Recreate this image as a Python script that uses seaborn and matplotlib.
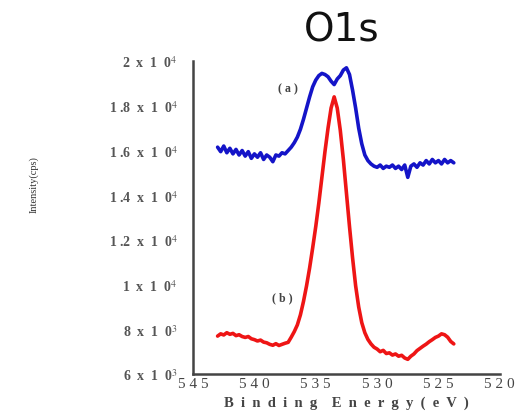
import pandas as pd
import matplotlib
matplotlib.use("Agg")
import matplotlib.pyplot as plt
import seaborn as sns

# Binding energy grid (eV) and intensities (cps)
energia = [543.00, 542.75, 542.50, 542.25, 542.00, 541.75, 541.50, 541.25,
           541.00, 540.75, 540.50, 540.25, 540.00, 539.75, 539.50, 539.25,
           539.00, 538.75, 538.50, 538.25, 538.00, 537.75, 537.50, 537.25,
           537.00, 536.75, 536.50, 536.25, 536.00, 535.75, 535.50, 535.25,
           535.00, 534.75, 534.50, 534.25, 534.00, 533.75, 533.50, 533.25,
           533.00, 532.75, 532.50, 532.25, 532.00, 531.75, 531.50, 531.25,
           531.00, 530.75, 530.50, 530.25, 530.00, 529.75, 529.50, 529.25,
           529.00, 528.75, 528.50, 528.25, 528.00, 527.75, 527.50, 527.25,
           527.00, 526.75, 526.50, 526.25, 526.00, 525.75, 525.50, 525.25,
           525.00, 524.75, 524.50, 524.25, 524.00, 523.75]

curva_a = [16150, 15950, 16200, 15900, 16100, 15850, 16050, 15800,
           16000, 15750, 15950, 15650, 15850, 15700, 15900, 15600,
           15800, 15700, 15500, 15800, 15750, 15900, 15850, 16000,
           16150, 16350, 16600, 16950, 17400, 17900, 18400, 18850,
           19150, 19350, 19450, 19400, 19300, 19100, 18950, 19200,
           19350, 19600, 19700, 19400, 18700, 17900, 17000, 16300,
           15800, 15550, 15400, 15300, 15250, 15350, 15200, 15300,
           15250, 15350, 15200, 15300, 15150, 15350, 14800, 15300,
           15400, 15250, 15450, 15350, 15550, 15400, 15600, 15450,
           15550, 15400, 15600, 15450, 15550, 15450]

curva_b = [7700, 7800, 7750, 7850, 7780, 7820, 7720, 7760,
           7680, 7640, 7680, 7580, 7540, 7480, 7520, 7430,
           7400, 7330, 7290, 7360, 7280, 7330, 7380, 7420,
           7650, 7900, 8200, 8650, 9250, 9950, 10750, 11650,
           12600, 13650, 14800, 15950, 17000, 17900, 18400, 17900,
           16900, 15600, 14100, 12600, 11200, 9950, 9000, 8300,
           7850, 7550, 7350, 7200, 7120, 7000, 7060, 6920,
           6950, 6850, 6900, 6800, 6840, 6720, 6660, 6800,
           6900, 7050, 7150, 7250, 7340, 7450, 7540, 7640,
           7700, 7800, 7760, 7650, 7460, 7350]

xticks = [545, 540, 535, 530, 525, 520]
yticks = [6000, 8000, 10000, 12000, 14000, 16000, 18000, 20000]
ytick_labels = ["6  x  1  0$^{3}$", "8  x  1  0$^{3}$", "1  x  1  0$^{4}$",
                "1 .2  x  1  0$^{4}$", "1 .4  x  1  0$^{4}$", "1 .6  x  1  0$^{4}$",
                "1 .8  x  1  0$^{4}$", "2  x  1  0$^{4}$"]

df = pd.concat([
    pd.DataFrame({"E": energia, "I": curva_a, "serie": "(a)"}),
    pd.DataFrame({"E": energia, "I": curva_b, "serie": "(b)"}),
])

sns.set_style("white")
plt.rcParams["font.family"] = ["Liberation Serif", "DejaVu Serif"]
plt.rcParams["mathtext.fontset"] = "stix"

fig = plt.figure(figsize=(5.19, 4.14), dpi=100)
ax = fig.add_axes([0.372, 0.094, 0.591, 0.756])

sns.lineplot(data=df, x="E", y="I", hue="serie",
             palette={"(a)": "#1414c8", "(b)": "#ee1515"},
             linewidth=2.6, legend=False, ax=ax)

ax.set_xlim(545, 520)
ax.set_ylim(6000, 20000)
ax.set_xticks(xticks)
ax.set_xticklabels([" ".join(str(t)) for t in xticks], fontsize=11, color="#444444")
ax.set_yticks(yticks)
ax.set_yticklabels(ytick_labels, fontsize=10, color="#555555", fontweight="bold")
ax.tick_params(axis="y", direction="in", length=14, width=1, color="#888888", pad=11)
ax.tick_params(axis="x", direction="in", length=5, width=1, color="#888888", pad=2)

for s in ["top", "right"]:
    ax.spines[s].set_visible(False)
for s in ["left", "bottom"]:
    ax.spines[s].set_color("#444444")
    ax.spines[s].set_linewidth(1.8)

ax.set_xlabel("B  i  n  d  i  n  g    E  n  e  r  g  y  (  e  V  )", fontsize=10.5,
              fontweight="bold", color="#444444", labelpad=4)
ax.set_ylabel("")
fig.text(0.065, 0.555, "Intensity(cps)", rotation=90, fontsize=7.5,
         color="#333333", ha="center", va="center")

ax.text(537.3, 18790, "( a )", fontsize=8.5, fontweight="bold", color="#444444",
        ha="center", va="center")
ax.text(537.75, 9450, "( b )", fontsize=8.5, fontweight="bold", color="#444444",
        ha="center", va="center")

fig.text(0.659, 0.926, "O1s", fontsize=28, family="DejaVu Sans",
         ha="center", va="center", color="#111111")

fig.savefig("out.png", dpi=100)
